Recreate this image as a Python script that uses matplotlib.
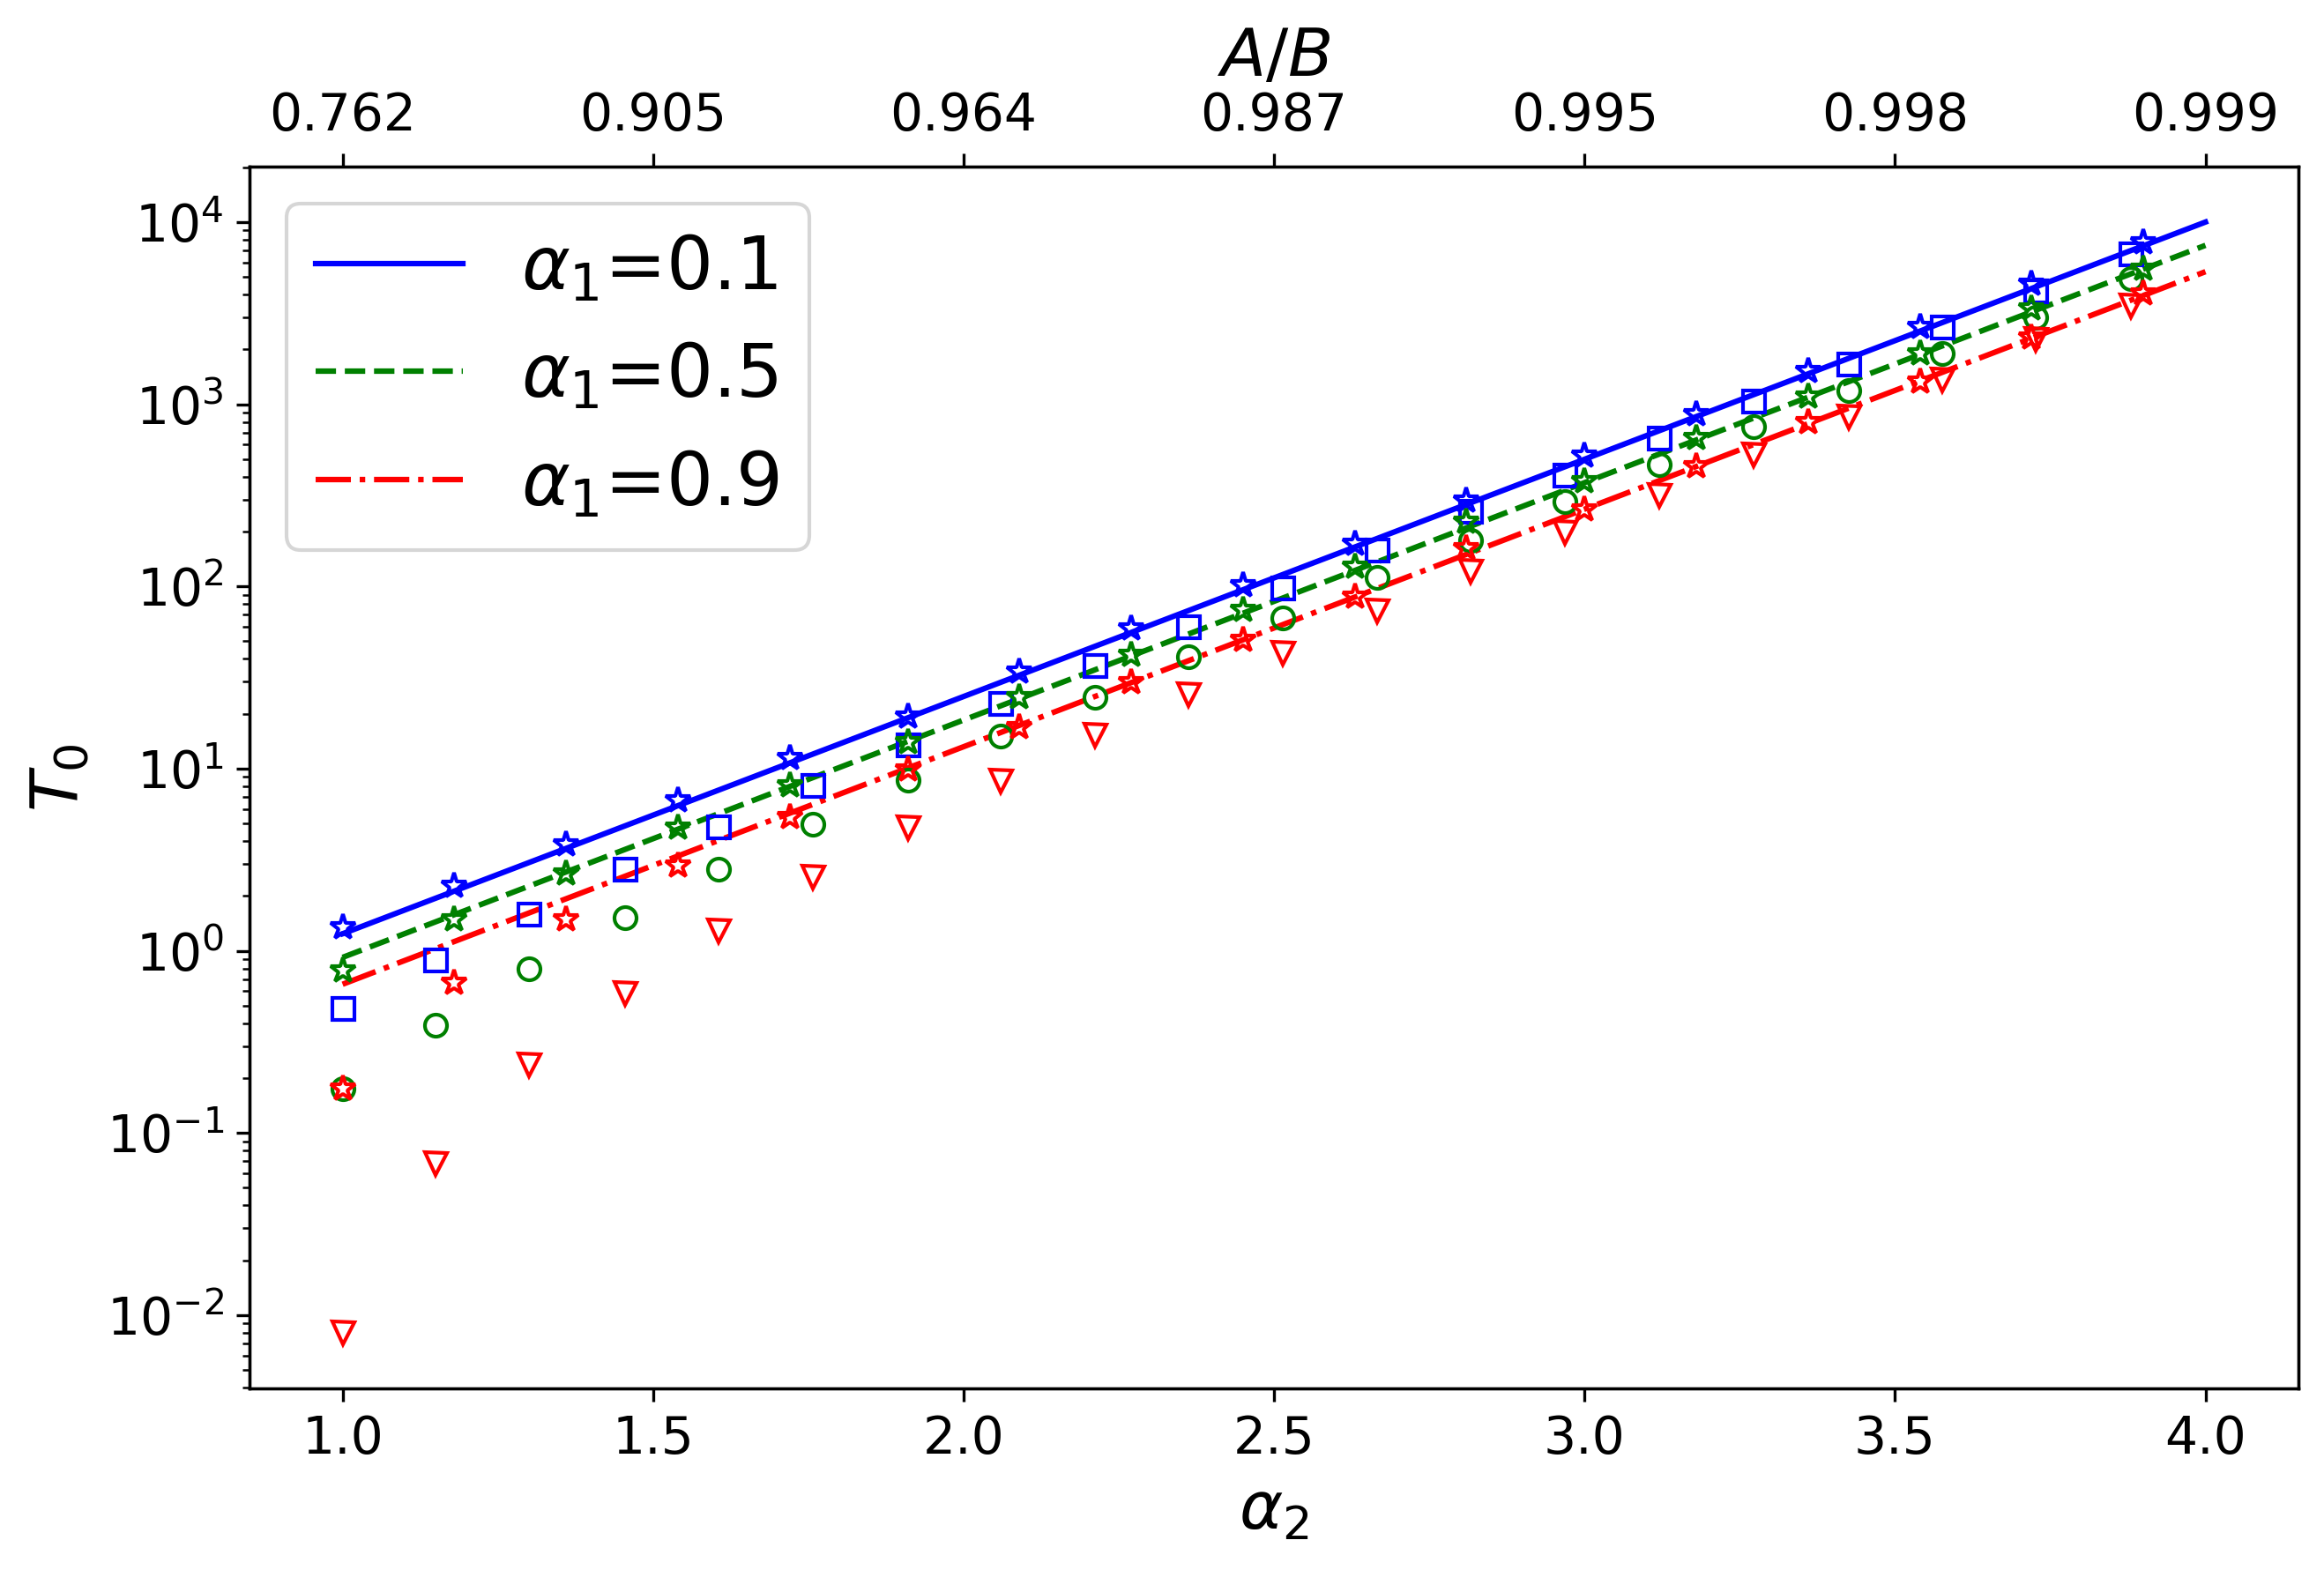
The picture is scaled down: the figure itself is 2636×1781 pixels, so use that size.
import matplotlib
matplotlib.use('Agg')
import matplotlib.pyplot as plt

# solid/dashed/dash-dot lines (straight on log axis, read at the ends)
line_x = [1.0, 4.0]
line_a01 = [1.24, 10000]
line_a05 = [0.92, 7450]
line_a09 = [0.655, 5340]

# star markers
star_x = [1.0, 1.18, 1.36, 1.54, 1.72, 1.91, 2.09, 2.27, 2.45, 2.63, 2.81,
          3.0, 3.18, 3.36, 3.54, 3.72, 3.9]
star_a01 = [1.34, 2.26, 3.85, 6.7, 11.4, 19.3, 34, 58.6, 101, 171, 297,
            522, 885, 1514, 2640, 4600, 7740]
star_a05 = [0.78, 1.49, 2.66, 4.75, 8.05, 14.0, 24.5, 42, 74, 128, 225,
            376, 648, 1105, 1892, 3364, 5540]
star_a09 = [0.175, 0.67, 1.49, 2.92, 5.4, 9.9, 16.9, 29.7, 51, 88, 162,
            263, 454, 792, 1336, 2330, 4060]

# square / circle / triangle markers
sym_x = [1.0, 1.15, 1.30, 1.455, 1.606, 1.758, 1.91, 2.06, 2.212, 2.362,
         2.514, 2.666, 2.817, 2.969, 3.12, 3.272, 3.425, 3.576, 3.727, 3.88]
sq_a01 = [0.48, 0.895, 1.59, 2.79, 4.8, 8.05, 13.5, 22.8, 36.7, 60,
          98, 159, 258, 406, 648, 1045, 1667, 2640, 4200, 6700]
circ_a05 = [0.175, 0.39, 0.794, 1.52, 2.81, 4.96, 8.6, 15, 24.6, 41.3,
            67, 112, 178, 291, 464, 749, 1194, 1892, 3010, 4870]
tri_a09 = [0.008, 0.068, 0.236, 0.58, 1.28, 2.55, 4.75, 8.5, 15.2, 25.5,
           43, 73, 121, 197, 315, 526, 856, 1355, 2277, 3480]

ab_ticks = [1.0, 1.5, 2.0, 2.5, 3.0, 3.5, 4.0]
ab_labels = ['0.762', '0.905', '0.964', '0.987', '0.995', '0.998', '0.999']

fig, ax = plt.subplots(figsize=(8.79, 5.937), dpi=300)
fig.subplots_adjust(left=0.1073, right=0.9887, top=0.8939, bottom=0.1157)

ax.plot(line_x, line_a01, 'b-', lw=1.5, label=r'$\alpha_1$=0.1')
ax.plot(line_x, line_a05, 'g--', lw=1.5, label=r'$\alpha_1$=0.5')
ax.plot(line_x, line_a09, 'r-.', lw=1.5, label=r'$\alpha_1$=0.9')

ax.plot(sym_x, sq_a01, 's', mfc='none', mec='b', ms=6, ls='none')
ax.plot(sym_x, circ_a05, 'o', mfc='none', mec='g', ms=6, ls='none')
ax.plot(sym_x, tri_a09, 'v', mfc='none', mec='r', ms=6, ls='none')

ax.plot(star_x, star_a01, '*', mfc='none', mec='b', ms=7, ls='none')
ax.plot(star_x, star_a05, '*', mfc='none', mec='g', ms=7, ls='none')
ax.plot(star_x, star_a09, '*', mfc='none', mec='r', ms=7, ls='none')

ax.set_yscale('log')
ax.set_xlabel(r'$\alpha_2$', fontsize=18)
ax.set_ylabel(r'$T_0$', fontsize=18)
ax.tick_params(labelsize=14)
ax.legend(loc='upper left', fontsize=20)

ax2 = ax.twiny()
ax2.set_xlim(ax.get_xlim())
ax2.set_xticks(ab_ticks)
ax2.set_xticklabels(ab_labels)
ax2.tick_params(labelsize=14)
ax2.set_xlabel(r'$A/B$', fontsize=18)

fig.savefig('out.png', dpi=300)
